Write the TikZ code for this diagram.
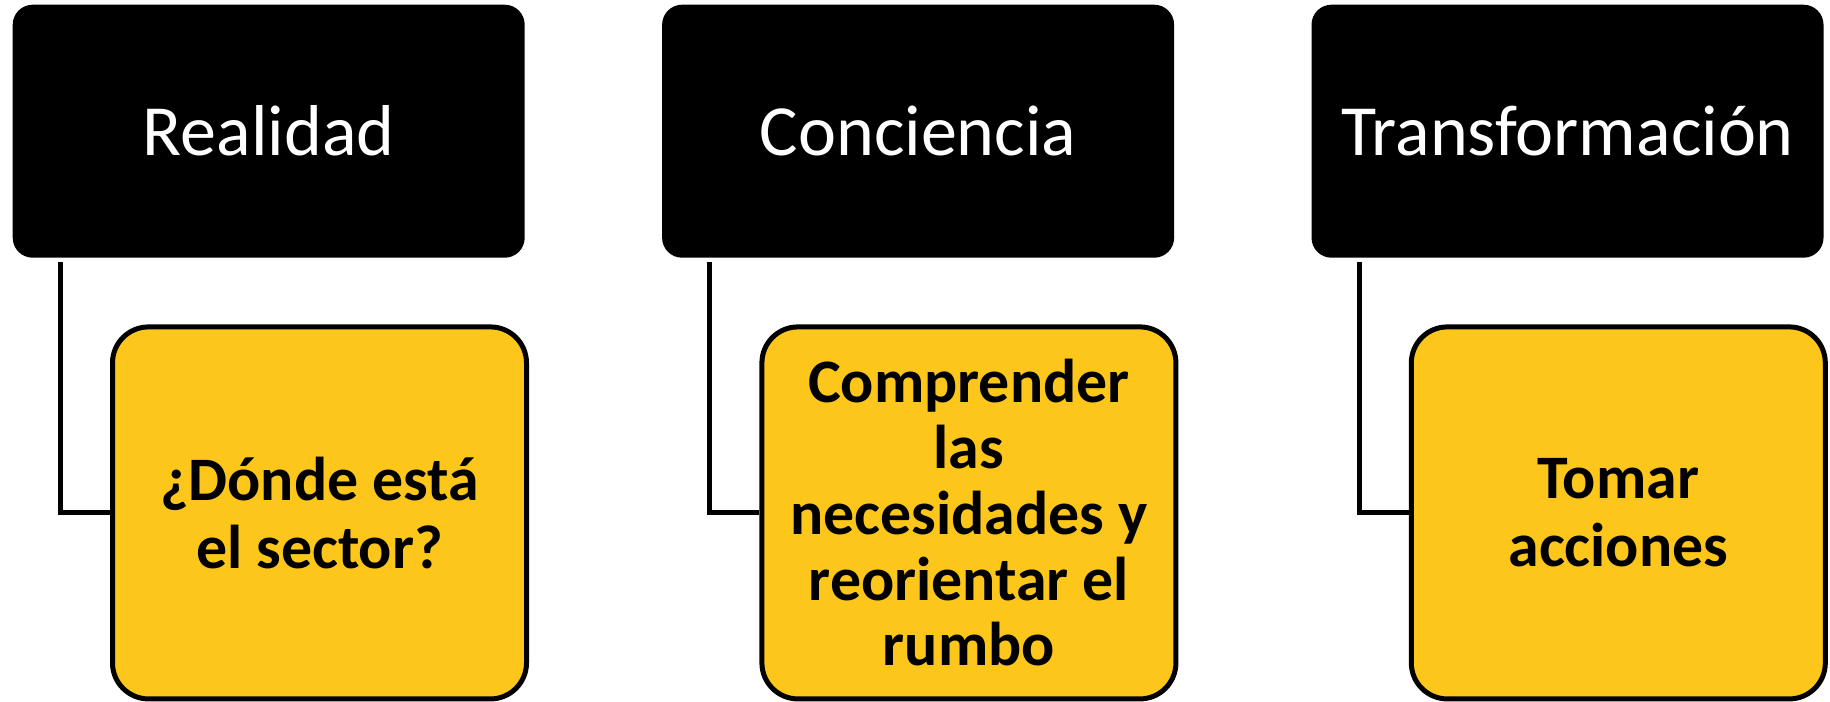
\documentclass[tikz,border=0pt]{standalone}
\usepackage{fontspec}
\setmainfont{Carlito}
\usepackage{xcolor}
\usepackage{tikz}
\usetikzlibrary{positioning}

\definecolor{answeryellow}{RGB}{253,198,26}

\begin{document}
\begin{tikzpicture}[
	node distance=1.36cm,
	stage/.style={fill=black, text=white, rounded corners=0.2cm, minimum width=5.12cm, minimum height=2.53cm, font=\fontsize{20.5}{24}\selectfont},
	answer/.style={draw=black, line width=0.05cm, fill=answeryellow, rounded corners=0.36cm, minimum width=4.14cm, minimum height=3.72cm, align=center, font=\bfseries\fontsize{17.6}{19.3}\selectfont},
	link/.style={draw=black, line width=0.05cm}
	]
	\useasboundingbox (0,0) rectangle (18.3,-7.01);

	\node(realidad)[stage, anchor=north west] at (0.12,-0.04) {Realidad};
	\node(conciencia)[stage, right=of realidad] {Conciencia};
	\node(transformacion)[stage, right=of conciencia] {Transformación};

	\node(sector)[answer, below=0.66cm of realidad.south west, anchor=north west, xshift=0.98cm] {¿Dónde está\\el sector?};
	\node(rumbo)[answer, below=0.66cm of conciencia.south west, anchor=north west, xshift=0.98cm, font=\bfseries\fontsize{17.6}{18.7}\selectfont] {Comprender\\las\\necesidades y\\reorientar el\\rumbo};
	\node(acciones)[answer, below=0.66cm of transformacion.south west, anchor=north west, xshift=0.98cm] {Tomar\\acciones};

	\draw[link] ([xshift=0.485cm, yshift=-0.04cm]realidad.south west) |- (sector);
	\draw[link] ([xshift=0.485cm, yshift=-0.04cm]conciencia.south west) |- (rumbo);
	\draw[link] ([xshift=0.485cm, yshift=-0.04cm]transformacion.south west) |- (acciones);
\end{tikzpicture}
\end{document}
